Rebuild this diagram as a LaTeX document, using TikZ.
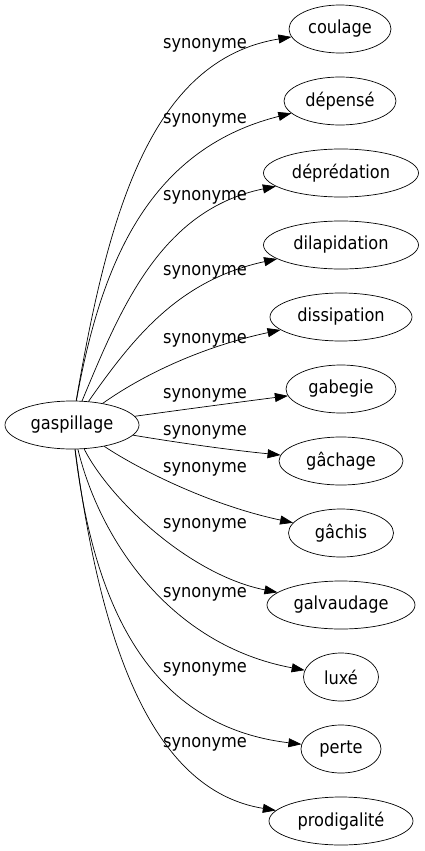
\documentclass[tikz,border=0pt]{standalone}
\usepackage{fontspec}
\setmainfont{DejaVu Sans}[FakeStretch=0.9]
\usetikzlibrary{shapes.geometric,arrows.meta}
\begin{document}
\begin{tikzpicture}[x=1pt,y=-1pt,
  word/.style={draw, ellipse, inner sep=0pt, minimum height=48pt, line width=0.7pt, font=\fontsize{18}{20}\selectfont},
  lab/.style={inner sep=0pt, font=\fontsize{18}{20}\selectfont},
  edge/.style={line width=0.7pt, -{Triangle[length=13pt,width=9pt]}}]
\useasboundingbox (0,0) rectangle (424,851);
\node[word, minimum width=134pt] (g) at (72,425) {gaspillage};
\node[word, minimum width=102pt] (n1) at (340,29) {coulage};
\node[word, minimum width=112pt] (n2) at (340,101) {dépensé};
\node[word, minimum width=155pt] (n3) at (341,173) {déprédation};
\node[word, minimum width=155pt] (n4) at (341,245) {dilapidation};
\node[word, minimum width=142pt] (n5) at (341,317) {dissipation};
\node[word, minimum width=110pt] (n6) at (341,389) {gabegie};
\node[word, minimum width=124pt] (n7) at (341,461) {gâchage};
\node[word, minimum width=105pt] (n8) at (341,533) {gâchis};
\node[word, minimum width=148pt] (n9) at (341,605) {galvaudage};
\node[word, minimum width=75pt] (n10) at (341,677) {luxé};
\node[word, minimum width=80pt] (n11) at (341,749) {perte};
\node[word, minimum width=144pt] (n12) at (341,821) {prodigalité};
\draw[edge] (g) .. controls (108,215) and (150,60) .. (n1);
\draw[edge] (g) .. controls (100,270) and (145,150) .. (n2);
\draw[edge] (g) .. controls (120,310) and (160,210) .. (n3);
\draw[edge] (g) .. controls (135,335) and (180,280) .. (n4);
\draw[edge] (g) .. controls (150,370) and (210,345) .. (n5);
\draw[edge] (g) .. controls (180,410) and (240,402) .. (n6);
\draw[edge] (g) .. controls (180,443) and (230,450) .. (n7);
\draw[edge] (g) .. controls (140,470) and (210,505) .. (n8);
\draw[edge] (g) .. controls (110,500) and (190,575) .. (n9);
\draw[edge] (g) .. controls (100,540) and (170,645) .. (n10);
\draw[edge] (g) .. controls (92,590) and (140,725) .. (n11);
\draw[edge] (g) .. controls (100,640) and (150,790) .. (n12);
\node[lab] (l1) at (205,45) {synonyme};
\node[lab] (l2) at (205,120) {synonyme};
\node[lab] (l3) at (205,197) {synonyme};
\node[lab] (l4) at (205,272) {synonyme};
\node[lab] (l5) at (205,340) {synonyme};
\node[lab] (l6) at (205,395) {synonyme};
\node[lab] (l7) at (205,432) {synonyme};
\node[lab] (l8) at (205,469) {synonyme};
\node[lab] (l9) at (205,525) {synonyme};
\node[lab] (l10) at (205,594) {synonyme};
\node[lab] (l11) at (205,669) {synonyme};
\node[lab] (l12) at (205,744) {synonyme};
\end{tikzpicture}
\end{document}
